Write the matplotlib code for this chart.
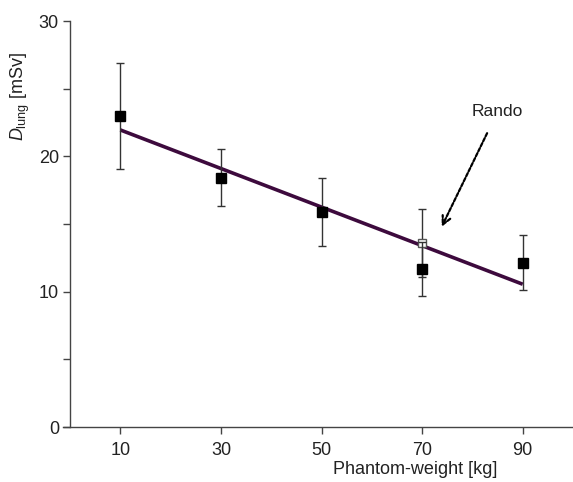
import matplotlib
matplotlib.use("Agg")
import matplotlib.pyplot as plt
import numpy as np

plt.rcParams['font.family'] = ['Liberation Sans', 'DejaVu Sans']
plt.rcParams['mathtext.fontset'] = 'custom'
plt.rcParams['mathtext.rm'] = 'Liberation Sans'
plt.rcParams['mathtext.it'] = 'Liberation Sans:italic'

weights = [10, 30, 50, 70, 90]
dose = [23.0, 18.43, 15.87, 11.7, 12.15]
dose_err = [3.9, 2.1, 2.5, 2.0, 2.05]

rando_weight = [70]
rando_dose = [13.6]
rando_err = [2.5]

fit_x = [10, 90]
fit_y = [21.95, 10.55]

xticks = [10, 30, 50, 70, 90]
yticks = [0, 5, 10, 15, 20, 25, 30]
ylabels = ['0', '', '10', '', '20', '', '30']

fig = plt.figure(figsize=(5.73, 4.82), dpi=100)
ax = fig.add_axes([63/573, 1-427/482, 510/573, 406/482])

ax.plot(fit_x, fit_y, color='#3d0a3d', lw=2.6, zorder=2, solid_capstyle='butt')
ax.errorbar(rando_weight, rando_dose, yerr=rando_err, fmt='s', ms=6, mfc='white',
            mec='#555555', mew=1.0, ecolor='#333333', elinewidth=1.0, capsize=3,
            capthick=1.0, zorder=3)
ax.errorbar(weights, dose, yerr=dose_err, fmt='s', ms=7.5, mfc='black', mec='black',
            ecolor='#333333', elinewidth=1.0, capsize=3, capthick=1.0, zorder=4)

ax.set_xlim(-1.4, 100)
ax.set_ylim(0, 30)
ax.spines['left'].set_position(('data', 0))
for s in ['top', 'right']:
    ax.spines[s].set_visible(False)
for s in ['left', 'bottom']:
    ax.spines[s].set_color('#444444')
    ax.spines[s].set_linewidth(1.0)

ax.set_xticks(xticks)
ax.set_xticklabels([str(t) for t in xticks])
ax.set_yticks(yticks)
ax.set_yticklabels(ylabels)
ax.tick_params(axis='both', direction='out', length=5, width=1.0, color='#444444',
               labelsize=13, labelcolor='#222222')
ax.tick_params(axis='x', pad=6)
ax.tick_params(axis='y', pad=3)

ax.annotate('Rando', xy=(73.9, 14.8), xytext=(85.0, 23.3), ha='center', va='center',
            fontsize=12.5, color='#222222',
            arrowprops=dict(arrowstyle='->', color='black', lw=1.6,
                            linestyle=(0, (1.6, 0.9)), shrinkA=9, shrinkB=0,
                            mutation_scale=15))

fig.text(415/573, 1-470/482, 'Phantom-weight [kg]', ha='center', va='center',
         fontsize=13, color='#222222')
fig.text(20/573, 1-96/482, r'$D_{\mathrm{lung}}$ [mSv]', ha='center', va='center',
         rotation=90, fontsize=13, color='#222222')

fig.savefig('out.png', dpi=100)
